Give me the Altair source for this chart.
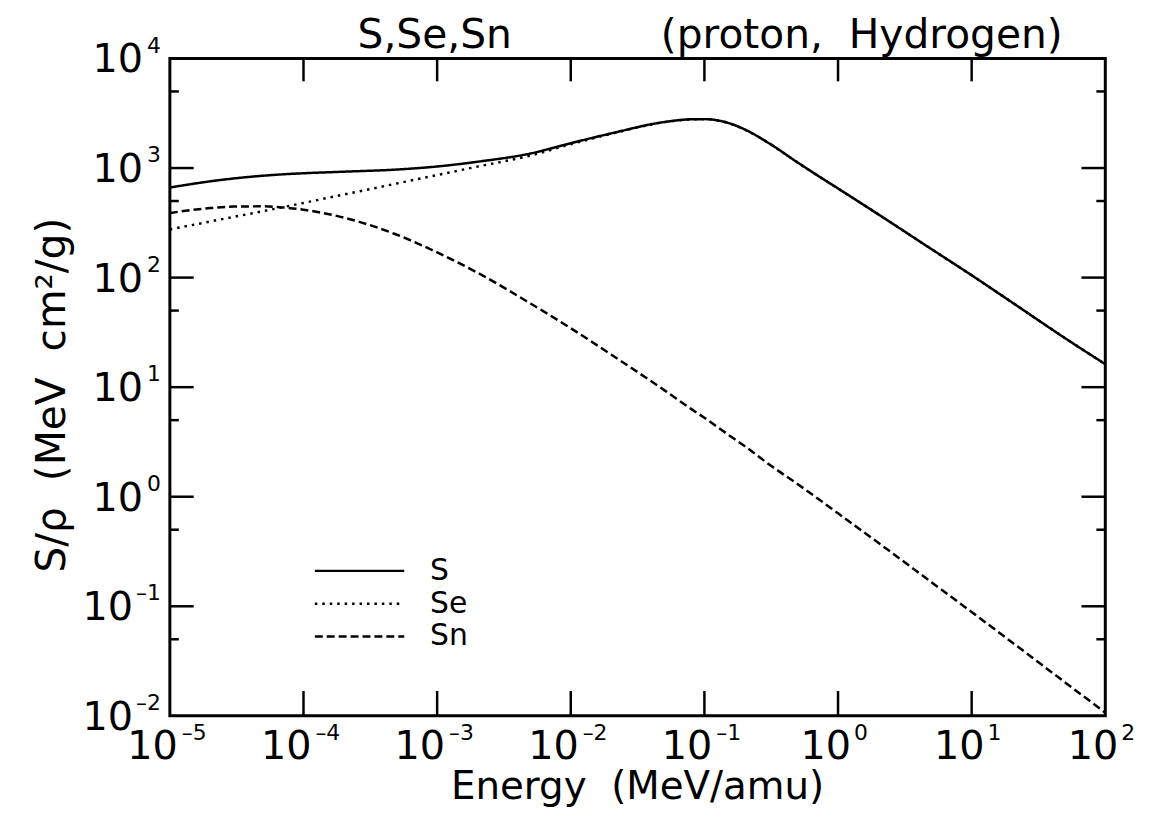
import altair as alt
import pandas as pd

# ---- data ----
energy = [1e-5, 2e-5, 3e-5, 5e-5, 7e-5, 1e-4, 2e-4, 5e-4, 1e-3, 2e-3, 5e-3,
          1e-2, 2e-2, 5e-2, 8e-2, 1e-1, 1.5e-1, 2e-1, 3e-1, 5e-1, 7e-1, 1, 2, 5, 10, 20, 50, 100]
s_total = [664, 756, 803, 851, 876, 896, 926, 969, 1033, 1141, 1358,
           1685, 2070, 2629, 2786, 2795, 2584, 2253, 1702, 1121, 858, 651, 378, 182, 105, 59.5, 28, 16.2]
s_elec = [275, 325, 358, 404, 439, 480, 573, 723, 863, 1030, 1300,
          1650, 2050, 2620, 2780, 2790, 2580, 2250, 1700, 1120, 857, 650, 378, 182, 105, 59.5, 28, 16.2]
s_nucl = [389, 431, 445, 447, 437, 416, 353, 246, 170, 111, 58,
          34.5, 19.9, 9.4, 6.3, 5.25, 3.7, 2.9, 2.0, 1.3, 0.97, 0.705, 0.38, 0.166, 0.0886, 0.047, 0.0202, 0.0107]

series_names = ["S", "Se", "Sn"]
x_exponents = [-5, -4, -3, -2, -1, 0, 1, 2]
y_exponents = [4, 3, 2, 1, 0, -1, -2]
x_major_ticks = [1e-4, 1e-3, 1e-2, 1e-1, 1, 10]
y_major_ticks = [1e3, 1e2, 1e1, 1, 1e-1]
y_minor_ticks = [5e3, 5e2, 5e1, 5, 0.5, 0.05]

title_left = "S,Se,Sn"
title_right = "(proton,\u00a0\u00a0Hydrogen)"
x_title = "Energy\u00a0\u00a0(MeV/amu)"
y_title = "S/\u03c1\u00a0\u00a0(MeV\u00a0\u00a0cm\u00b2/g)"

FONT = "DejaVu Sans"
W, H = 942, 662

rows = []
for name, vals in zip(series_names, [s_total, s_elec, s_nucl]):
    for e, v in zip(energy, vals):
        rows.append({"energy": e, "value": v, "series": name})
curves_df = pd.DataFrame(rows)

xs = alt.Scale(type="log", domain=[1e-5, 1e2], nice=False)
ys = alt.Scale(type="log", domain=[1e-2, 1e4], nice=False)

dash_scale = alt.Scale(domain=series_names, range=[[1, 0], [2.5, 5], [8, 4]])

curves = alt.Chart(curves_df).mark_line(color="black", strokeWidth=2.5, interpolate="monotone").encode(
    x=alt.X("energy:Q", scale=xs, axis=None),
    y=alt.Y("value:Q", scale=ys, axis=None),
    strokeDash=alt.StrokeDash("series:N", scale=dash_scale, legend=None),
    detail="series:N",
)

def xrule(vals, y0, y1):
    return alt.Chart(pd.DataFrame({"v": vals})).mark_rule(color="black", strokeWidth=2.5).encode(
        x=alt.X("v:Q", scale=xs, axis=None), y=alt.value(y0), y2=alt.value(y1))

def yrule(vals, x0, x1):
    return alt.Chart(pd.DataFrame({"v": vals})).mark_rule(color="black", strokeWidth=2.5).encode(
        y=alt.Y("v:Q", scale=ys, axis=None), x=alt.value(x0), x2=alt.value(x1))

ticks = [
    xrule(x_major_ticks, H, H - 25),
    xrule(x_major_ticks, 0, 23),
    yrule(y_major_ticks, 0, 24),
    yrule(y_major_ticks, W - 24, W),
    yrule(y_minor_ticks, 0, 9),
    yrule(y_minor_ticks, W - 9, W),
]

def exp_text(e):
    return ("\u2013" + str(-e)) if e < 0 else str(e)

xl = pd.DataFrame({"v": [10.0 ** e for e in x_exponents],
                   "base": ["10"] * len(x_exponents),
                   "exp": [exp_text(e) for e in x_exponents],
                   "neg": [e < 0 for e in x_exponents]})
yl = pd.DataFrame({"v": [10.0 ** e for e in y_exponents],
                   "base": ["10"] * len(y_exponents),
                   "exp": [exp_text(e) for e in y_exponents],
                   "neg": [e < 0 for e in y_exponents]})

labels = []
for neg, dx_base, dx_exp in [(True, 8, 12), (False, 13, 16)]:
    d = xl[xl["neg"] == neg]
    labels.append(alt.Chart(d).mark_text(font=FONT, fontSize=40, align="right", baseline="alphabetic",
                                         dx=dx_base, color="black").encode(
        x=alt.X("v:Q", scale=xs, axis=None), y=alt.value(H + 43), text="base:N"))
    labels.append(alt.Chart(d).mark_text(font=FONT, fontSize=22, align="left", baseline="alphabetic",
                                         dx=dx_exp, color="black").encode(
        x=alt.X("v:Q", scale=xs, axis=None), y=alt.value(H + 24), text="exp:N"))

for neg, xb in [(True, -37), (False, -27)]:
    d = yl[yl["neg"] == neg]
    labels.append(alt.Chart(d).mark_text(font=FONT, fontSize=40, align="right", baseline="alphabetic",
                                         dy=14, color="black").encode(
        y=alt.Y("v:Q", scale=ys, axis=None), x=alt.value(xb), text="base:N"))
    labels.append(alt.Chart(d).mark_text(font=FONT, fontSize=22, align="right", baseline="alphabetic",
                                         dy=-6, color="black").encode(
        y=alt.Y("v:Q", scale=ys, axis=None), x=alt.value(-9), text="exp:N"))

def text_layer(t, x, y, size=40, align="center", baseline="alphabetic", angle=0):
    kw = dict(font=FONT, fontSize=size, align=align, baseline=baseline, color="black")
    if angle:
        kw["angle"] = angle
    return alt.Chart(pd.DataFrame({"t": [t]})).mark_text(**kw).encode(
        text="t:N", x=alt.value(x), y=alt.value(y))

titles = [
    text_layer(title_left, 189, -11, size=41, align="left"),
    text_layer(title_right, 899, -11, size=41, align="right"),
    text_layer(x_title, W / 2, H + 84, size=39, align="center"),
    text_layer(y_title, -118, H / 2 + 8, size=41, align="center", baseline="middle", angle=270),
]

legend = []
for name, ly in zip(series_names, [516, 549, 582]):
    d = pd.DataFrame({"series": [name]})
    legend.append(alt.Chart(d).mark_rule(color="black", strokeWidth=2.5).encode(
        x=alt.value(146), x2=alt.value(236), y=alt.value(ly),
        strokeDash=alt.StrokeDash("series:N", scale=dash_scale, legend=None)))
    legend.append(alt.Chart(d).mark_text(font=FONT, fontSize=30, align="left", baseline="middle",
                                         color="black").encode(
        x=alt.value(262), y=alt.value(ly), text="series:N"))

chart = alt.layer(curves, *ticks, *labels, *titles, *legend).properties(
    width=W, height=H,
    autosize=alt.AutoSizeParams(type="none"),
    padding={"left": 163, "top": 48, "right": 43, "bottom": 95},
).configure(background="white").configure_view(stroke="black", strokeWidth=3)

chart.save("out.html", embed_options={"renderer": "svg", "actions": False})
